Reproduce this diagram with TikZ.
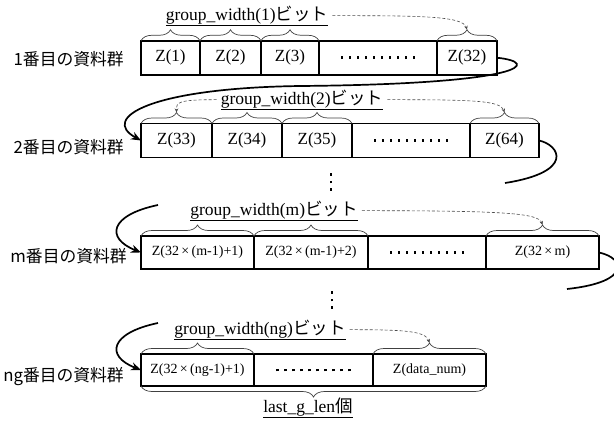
\documentclass[tikz,border=0pt]{standalone}
\usepackage{fontspec}
\setmainfont{Liberation Serif}
\newfontfamily\jpsans{Noto Sans CJK JP}
\usetikzlibrary{arrows.meta,decorations.pathreplacing}
\newcommand{\zdots}{\makebox[80pt]{\xleaders\hbox to 8pt{\hss\rule[0pt]{2.8pt}{2.8pt}\hss}\hfill}}
\newcommand{\vdotcol}{\vbox{\offinterlineskip\hbox{\rule{2.6pt}{2.6pt}}\kern4.8pt\hbox{\rule{2.6pt}{2.6pt}}\kern4.8pt\hbox{\rule{2.6pt}{2.6pt}}}}
\tikzset{
  cell/.style={draw, line width=1.5pt, inner sep=0pt, outer sep=0pt, minimum height=34pt, font=\fontsize{17}{19}\selectfont},
  smallcell/.style={cell, font=\fontsize{14}{16}\selectfont},
  grouplabel/.style={anchor=base east, inner sep=0pt, font=\jpsans\fontsize{16.8}{19}\selectfont},
  bitlabel/.style={anchor=base, inner sep=4pt, font=\fontsize{17.5}{19}\selectfont},
  bitbrace/.style={decorate, decoration={brace, amplitude=11pt}, draw=black!75, line width=0.7pt},
  flow/.style={line width=1.7pt, -{Stealth[length=10pt,width=8pt]}},
  flowend/.style={line width=1.7pt},
  hint/.style={densely dashed, draw=black!70, line width=0.6pt, -{Stealth[length=4pt,width=3.5pt]}}
}
\begin{document}
\begin{tikzpicture}[x=1pt, y=-1pt]
  \useasboundingbox (0,0) rectangle (614,421);
  \clip (0,0) rectangle (614,421);

  % group 1
  \node[grouplabel] (lab1) at (124,65) {1番目の資料群};
  \node[cell, minimum width=59] (z1) at (170.5,57.75) {Z(1)};
  \node[cell, minimum width=61] (z2) at (230.5,57.75) {Z(2)};
  \node[cell, minimum width=58] (z3) at (290,57.75) {Z(3)};
  \node[cell, minimum width=118] (z1d) at (378,57.75) {\zdots};
  \node[cell, minimum width=60] (z32) at (467,57.75) {Z(32)};
  \draw[bitbrace] (z1.north west) -- (z1.north east);
  \draw[bitbrace] (z2.north west) -- (z2.north east);
  \draw[bitbrace] (z3.north west) -- (z3.north east);
  \draw[bitbrace] (z32.north west) -- (z32.north east);
  \coordinate (tip32) at ([yshift=11pt]z32.north);
  \node[bitlabel] (gw1) at (247,20) {\underline{group\_width(1){\jpsans ビット}}};
  \draw[hint] (gw1.east) .. controls +(85,0) and +(-4,-14) .. (tip32);

  % group 2
  \node[grouplabel] (lab2) at (124,153) {2番目の資料群};
  \node[cell, minimum width=71] (z33) at (176.5,140.5) {Z(33)};
  \node[cell, minimum width=70] (z34) at (247,140.5) {Z(34)};
  \node[cell, minimum width=70] (z35) at (317,140.5) {Z(35)};
  \node[cell, minimum width=118] (z2d) at (411,140.5) {\zdots};
  \node[cell, minimum width=69] (z64) at (504.5,140.5) {Z(64)};
  \draw[bitbrace] (z33.north west) -- (z33.north east);
  \draw[bitbrace] (z34.north west) -- (z34.north east);
  \draw[bitbrace] (z35.north west) -- (z35.north east);
  \draw[bitbrace] (z64.north west) -- (z64.north east);
  \coordinate (tip33) at ([yshift=11pt]z33.north);
  \coordinate (tip64) at ([yshift=11pt]z64.north);
  \node[bitlabel] (gw2) at (302,104) {\underline{group\_width(2){\jpsans ビット}}};
  \draw[hint] (gw2.west) .. controls +(-40,0) and +(0,-10) .. (tip33);
  \draw[hint] (gw2.east) .. controls +(85,0) and +(-4,-12) .. (tip64);

  \coordinate (turn1) at (300,86);
  \draw[flow] (z32.east) .. controls (540,62) and (530,84) .. (turn1)
    .. controls (150,88) and (100,118) .. (z33.west);

  \coordinate (cut2) at (505,183);
  \draw[flowend] (z64.east) .. controls (560,145) and (575,172) .. (cut2);
  \node (vd1) at (331,182) {\vdotcol};

  % group m
  \node[grouplabel] (lab3) at (127,262) {m番目の資料群};
  \node[smallcell, minimum width=113, minimum height=33] (zm1) at (197.5,252.5) {Z(32\,×\,(m-1)+1)};
  \node[smallcell, minimum width=114, minimum height=33] (zm2) at (311,252.5) {Z(32\,×\,(m-1)+2)};
  \node[cell, minimum width=118, minimum height=33] (zmd) at (427,252.5) {\zdots};
  \node[smallcell, minimum width=113, minimum height=33] (zmm) at (542.5,252.5) {Z(32\,×\,m)};
  \draw[bitbrace] (zm1.north west) -- (zm1.north east);
  \draw[bitbrace] (zm2.north west) -- (zm2.north east);
  \draw[bitbrace] (zmm.north west) -- (zmm.north east);
  \coordinate (tipmm) at ([yshift=11pt]zmm.north);
  \node[bitlabel] (gw3) at (274,215) {\underline{group\_width(m){\jpsans ビット}}};
  \draw[hint] (gw3.east) .. controls +(140,0) and +(-4,-12) .. (tipmm);

  \coordinate (resume3) at (158,205);
  \draw[flow] (resume3) .. controls (110,215) and (105,238) .. (zm1.west);
  \coordinate (cut3) at (567,289);
  \draw[flowend] (zmm.east) .. controls (625,258) and (632,282) .. (cut3);
  \node (vd2) at (332,300) {\vdotcol};

  % group ng
  \node[grouplabel] (lab4) at (124,381) {ng番目の資料群};
  \node[smallcell, minimum width=113, minimum height=32] (zg1) at (197.5,370) {Z(32\,×\,(ng-1)+1)};
  \node[cell, minimum width=119, minimum height=32] (zgd) at (313.5,370) {\zdots};
  \node[smallcell, minimum width=113, minimum height=32] (zgn) at (429.5,370) {Z(data\_num)};
  \draw[bitbrace] (zg1.north west) -- (zg1.north east);
  \draw[bitbrace] (zgn.north west) -- (zgn.north east);
  \draw[bitbrace] (zgn.south east) -- (zg1.south west);
  \coordinate (tipgn) at ([yshift=11pt]zgn.north);
  \node[bitlabel] (gw4) at (260,334) {\underline{group\_width(ng){\jpsans ビット}}};
  \draw[hint] (gw4.east) .. controls +(55,0) and +(-4,-12) .. (tipgn);
  \node[bitlabel] (lastlen) at (308,412) {\underline{last\_g\_len{\jpsans 個}}};

  \coordinate (resume4) at (158,323);
  \draw[flow] (resume4) .. controls (110,333) and (105,356) .. (zg1.west);
\end{tikzpicture}
\end{document}
